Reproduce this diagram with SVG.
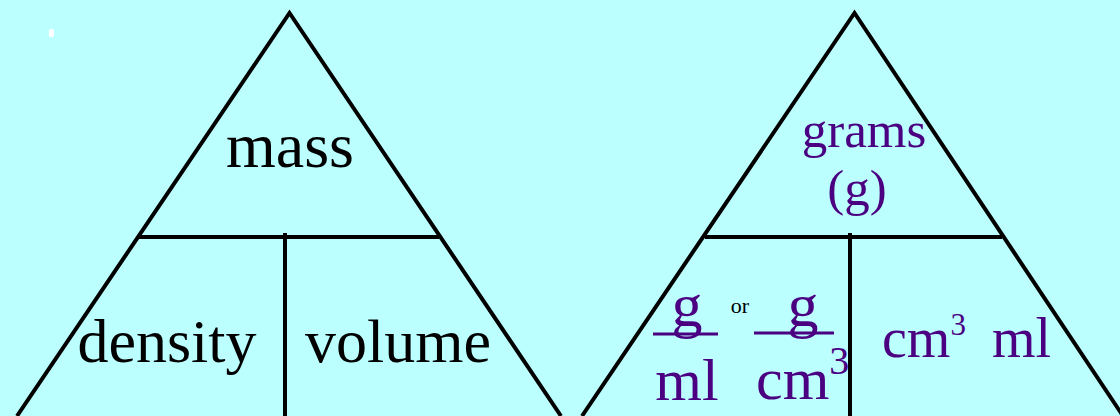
<svg xmlns="http://www.w3.org/2000/svg" width="1120" height="416" viewBox="0 0 1120 416">
<style>
.ln{stroke:#000;stroke-width:4;fill:none;stroke-linecap:butt;stroke-linejoin:miter}
.bk{font-family:"Liberation Serif","Times New Roman",serif;fill:#000}
.pu{font-family:"Liberation Serif","Times New Roman",serif;fill:#4B0082}
.fr{stroke:#4B0082;stroke-width:3}
</style>
<rect x="0" y="0" width="1120" height="416" fill="#BBFFFF"/>
<rect x="49" y="29" width="5" height="8" rx="1.5" fill="#FFFFFF"/>
<g id="connectors"></g>
<g id="formula-triangle">
<polyline class="ln" points="17,416 289.5,13 561,416"/>
<line class="ln" x1="139" y1="237" x2="439" y2="237"/>
<line class="ln" x1="285" y1="233" x2="285" y2="416"/>
<text class="bk" x="290" y="167" font-size="64" text-anchor="middle">mass</text>
<text class="bk" x="167" y="362" font-size="62" text-anchor="middle">density</text>
<text class="bk" x="398" y="362" font-size="62" text-anchor="middle">volume</text>
</g>
<g id="units-triangle">
<polyline class="ln" points="582,416 854.5,13 1123,416"/>
<line class="ln" x1="705" y1="237" x2="1002" y2="237"/>
<line class="ln" x1="850" y1="233" x2="850" y2="416"/>
<text class="pu" x="864" y="147" font-size="51" text-anchor="middle">grams</text>
<text class="pu" x="857" y="205" font-size="51" text-anchor="middle">(g)</text>
<text class="pu" x="687" y="326" font-size="62" text-anchor="middle">g</text>
<line class="fr" x1="653" y1="334" x2="718" y2="334"/>
<text class="pu" x="687" y="400" font-size="60" text-anchor="middle">ml</text>
<text class="bk" x="740" y="313" font-size="22" text-anchor="middle">or</text>
<text class="pu" x="803" y="326" font-size="62" text-anchor="middle">g</text>
<line class="fr" x1="754" y1="333" x2="834" y2="333"/>
<text class="pu" x="756" y="399" font-size="60">cm<tspan font-size="40" dy="-25">3</tspan></text>
<text class="pu" x="882" y="357" font-size="56">cm<tspan font-size="31" dy="-22">3</tspan></text>
<text class="pu" x="992" y="357" font-size="56">ml</text>
</g>
</svg>
